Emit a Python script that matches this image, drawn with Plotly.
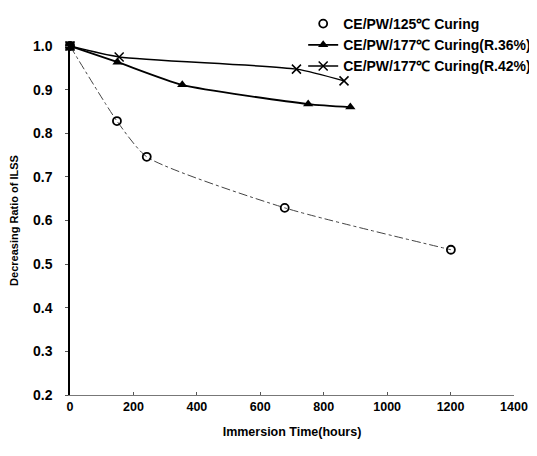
import plotly.graph_objects as go

x125 = [0, 148, 242, 677, 1201]
y125 = [1.0, 0.828, 0.746, 0.629, 0.533]
x36 = [0, 150, 354, 751, 884]
y36 = [1.0, 0.963, 0.911, 0.867, 0.860]
x42 = [0, 155, 714, 864]
y42 = [1.0, 0.975, 0.947, 0.920]

names = ["CE/PW/125℃ Curing", "CE/PW/177℃ Curing(R.36%)", "CE/PW/177℃ Curing(R.42%)"]

fig = go.Figure()
# 125 curing: dash-dot line (no legend) + open circle markers (legend)
fig.add_trace(go.Scatter(
    x=x125, y=y125, mode="lines", showlegend=False, hoverinfo="skip",
    line=dict(color="#444", width=1, dash="dashdot", shape="spline", smoothing=0.6)))
fig.add_trace(go.Scatter(
    x=x125, y=y125, name=names[0], mode="markers",
    marker=dict(symbol="circle-open", size=8, color="black", line=dict(color="black", width=1.8)),
    cliponaxis=False))
fig.add_trace(go.Scatter(
    x=x36, y=y36, name=names[1], mode="lines+markers",
    line=dict(color="black", width=1.8, shape="spline", smoothing=0.6),
    marker=dict(symbol="triangle-up", size=9, color="black"),
    cliponaxis=False))
fig.add_trace(go.Scatter(
    x=x42, y=y42, name=names[2], mode="lines+markers",
    line=dict(color="black", width=1.5, shape="spline", smoothing=0.6),
    marker=dict(symbol="x-thin", size=9, color="black", line=dict(color="black", width=1.5)),
    cliponaxis=False))
# shared starting point drawn as a filled square (overlapping markers)
fig.add_trace(go.Scatter(
    x=[x125[0]], y=[y125[0]], mode="markers", showlegend=False, hoverinfo="skip",
    marker=dict(symbol="square", size=9, color="black"), cliponaxis=False))

font = "Liberation Sans, Arial, sans-serif"
fig.update_layout(
    width=529, height=440,
    margin=dict(l=62, r=23, t=38, b=53, autoexpand=False),
    paper_bgcolor="white", plot_bgcolor="white",
    font=dict(family=font, color="black", size=12),
    showlegend=True,
    legend=dict(x=0.558, y=1.025, xref="container", yref="container", xanchor="left", yanchor="top",
                font=dict(family=font, size=14, color="black", weight="bold"),
                bgcolor="rgba(0,0,0,0)", tracegroupgap=0, itemwidth=30),
    xaxis=dict(range=[0, 1400], dtick=200, showgrid=False, zeroline=False, automargin=False,
               showline=True, linecolor="#777", linewidth=1,
               ticks="inside", ticklen=3, tickcolor="#555",
               tickfont=dict(size=12.5, family=font, weight="bold"),
               title=dict(text="<b>Immersion Time(hours)</b>", font=dict(size=12.5, family=font), standoff=14)),
    yaxis=dict(range=[0.2, 1.0], dtick=0.1, tickformat=".1f", showgrid=False, zeroline=False, automargin=False,
               showline=True, linecolor="black", linewidth=1.5,
               ticks="outside", ticklen=3, tickcolor="#555", ticklabelstandoff=10,
               tickfont=dict(size=14, family=font, weight="bold"),
               title=dict(text="<b>Decreasing Ratio of ILSS</b>", font=dict(size=11, family=font), standoff=14)),
)
fig.write_html("out.html")
